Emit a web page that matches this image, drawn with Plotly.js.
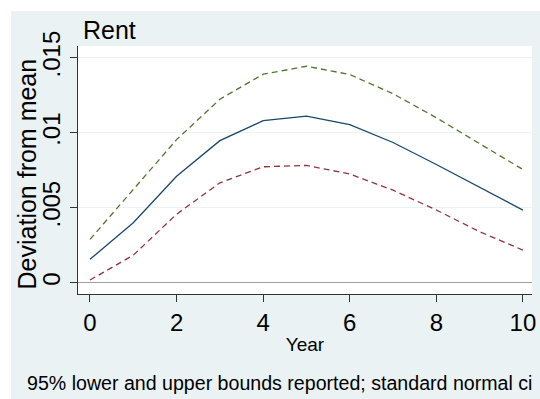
<!DOCTYPE html>
<html>
<head>
<meta charset="utf-8">
<script src="https://cdn.plot.ly/plotly-3.0.1.min.js"></script>
<style>
html,body{margin:0;padding:0;background:#ffffff;width:540px;height:399px;overflow:hidden;}
#chart{position:absolute;left:11px;top:11px;width:529px;height:388px;}
</style>
</head>
<body>
<div id="chart"></div>
<script>
var years = [0,1,2,3,4,5,6,7,8,9,10];
var estimate = [0.00156,0.0040,0.0071,0.00947,0.0108,0.0111,0.01054,0.00935,0.00788,0.00635,0.00484];
var upperBound = [0.00289,0.0062,0.00954,0.01223,0.0139,0.01443,0.01388,0.0126,0.0110,0.00927,0.00755];
var lowerBound = [0.00018,0.00184,0.00457,0.00666,0.00773,0.00782,0.00725,0.00617,0.00485,0.0034,0.00218];
var xTicks = [0,2,4,6,8,10];
var yTicks = [0,0.005,0.01,0.015];
var yTickText = ['0','.005','.01','.015'];

var font = 'Liberation Sans, Arial, sans-serif';
var traces = [
  {x: years, y: estimate, type:'scatter', mode:'lines', line:{color:'#1a476f', width:1.3}, hoverinfo:'skip'},
  {x: years, y: upperBound, type:'scatter', mode:'lines', line:{color:'#55752f', width:1.3, dash:'6px,4px'}, hoverinfo:'skip'},
  {x: years, y: lowerBound, type:'scatter', mode:'lines', line:{color:'#90353b', width:1.3, dash:'6px,4px'}, hoverinfo:'skip'}
];
var layout = {
  width:529, height:388,
  margin:{l:67, r:8, t:35, b:105},
  paper_bgcolor:'#eaf2f3',
  plot_bgcolor:'#ffffff',
  showlegend:false,
  font:{family:font, color:'#000'},
  xaxis:{
    range:[-0.277,10.21], tickvals:xTicks, ticktext:xTicks.map(String),
    showgrid:false, zeroline:false, showline:true, linecolor:'#333', linewidth:1.3,
    ticks:'outside', ticklen:7, tickcolor:'#333', tickwidth:1,
    tickfont:{size:24, family:font},
    title:{text:'Year', font:{size:19, family:font}, standoff:2}
  },
  yaxis:{
    range:[-0.00075,0.01578], tickvals:yTicks, ticktext:yTickText, tickangle:-90,
    showgrid:true, gridcolor:'#eaf2f3', gridwidth:1,
    zeroline:true, zerolinecolor:'#a0a0a0', zerolinewidth:1.3,
    showline:true, linecolor:'#333', linewidth:1.3,
    ticks:'outside', ticklen:7, tickcolor:'#333', tickwidth:1,
    tickfont:{size:24, family:font}
  },
  annotations:[
    {text:'Rent', xref:'paper', yref:'paper', x:0.006, y:1, xanchor:'left', yanchor:'bottom', yshift:0, showarrow:false, font:{size:25, family:font}},
    {text:'Deviation from mean', xref:'paper', yref:'paper', x:-0.1123, y:0.482, xanchor:'center', yanchor:'middle', textangle:-90, showarrow:false, font:{size:25, family:font}},
    {text:'95% lower and upper bounds reported; standard normal ci', xref:'paper', yref:'paper', x:-0.1167, y:0, xanchor:'left', yanchor:'top', yshift:-76, showarrow:false, font:{size:19.6, family:font}}
  ]
};
Plotly.newPlot('chart', traces, layout, {staticPlot:true, displayModeBar:false});
</script>
</body>
</html>
